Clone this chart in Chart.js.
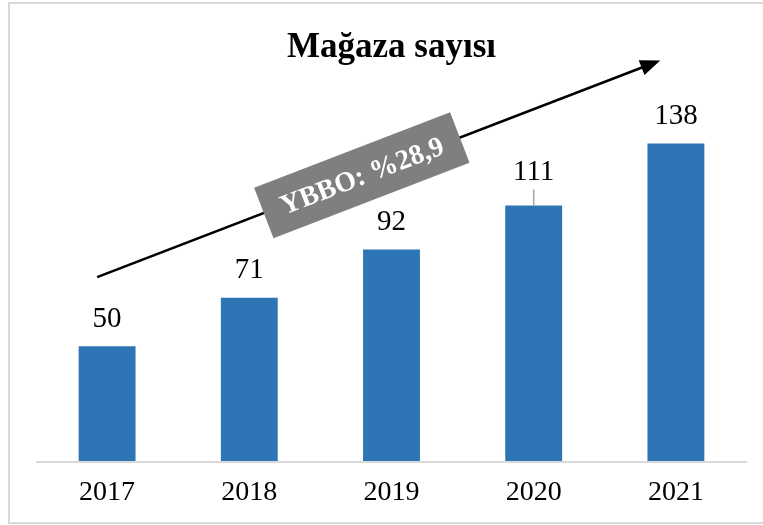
<!DOCTYPE html>
<html>
<head>
<meta charset="utf-8">
<script src="https://cdn.jsdelivr.net/npm/chart.js@4/dist/chart.umd.min.js"></script>
<style>
  html, body { margin: 0; padding: 0; background: #fff; }
  canvas { display: block; }
</style>
</head>
<body>
<canvas id="storeChart" width="763" height="525"></canvas>
<script>
// mağaza sayısı verisi
var years = ['2017', '2018', '2019', '2020', '2021'];
var storeCounts = [50, 71, 92, 111, 138];
var cagrText = 'YBBO: %28,9';
// trend oku (kategori indeksi, değer)
var arrowFrom = [-0.07, 80];
var arrowTo = [3.89, 174];

var serif = "'Liberation Serif', 'Times New Roman', serif";

// etiketler, trend oku ve çerçeve
var decorPlugin = {
    id: 'decor',
    afterDraw: function (chart) {
        var ctx = chart.ctx;
        var x = chart.scales.x, y = chart.scales.y;
        var meta = chart.getDatasetMeta(0);

        // çerçeve
        ctx.save();
        ctx.strokeStyle = '#d9d9d9';
        ctx.lineWidth = 2;
        ctx.strokeRect(9, 3, chart.width - 8, chart.height - 5);

        // eksen çizgisi
        ctx.beginPath();
        ctx.moveTo(chart.chartArea.left, chart.chartArea.bottom + 0.5);
        ctx.lineTo(chart.chartArea.right, chart.chartArea.bottom + 0.5);
        ctx.lineWidth = 2;
        ctx.stroke();

        // değer etiketleri
        ctx.fillStyle = '#000';
        ctx.font = '29px ' + serif;
        ctx.textAlign = 'center';
        ctx.textBaseline = 'middle';
        meta.data.forEach(function (bar, i) {
            var lift = i === 3 ? 33 : 27;
            ctx.fillText(String(storeCounts[i]), bar.x, bar.y - lift);
            if (i === 3) {
                ctx.beginPath();
                ctx.strokeStyle = '#a6a6a6';
                ctx.lineWidth = 1.5;
                ctx.moveTo(bar.x, bar.y - 16);
                ctx.lineTo(bar.x, bar.y);
                ctx.stroke();
            }
        });

        // trend oku
        var x1 = x.getPixelForValue(arrowFrom[0]), y1 = y.getPixelForValue(arrowFrom[1]);
        var x2 = x.getPixelForValue(arrowTo[0]), y2 = y.getPixelForValue(arrowTo[1]);
        var ang = Math.atan2(y2 - y1, x2 - x1);
        ctx.strokeStyle = '#000';
        ctx.lineWidth = 2.5;
        ctx.beginPath();
        ctx.moveTo(x1, y1);
        ctx.lineTo(x2 - 14 * Math.cos(ang), y2 - 14 * Math.sin(ang));
        ctx.stroke();
        ctx.fillStyle = '#000';
        ctx.beginPath();
        ctx.moveTo(x2, y2);
        ctx.lineTo(x2 - 20 * Math.cos(ang) + 8 * Math.sin(ang), y2 - 20 * Math.sin(ang) - 8 * Math.cos(ang));
        ctx.lineTo(x2 - 20 * Math.cos(ang) - 8 * Math.sin(ang), y2 - 20 * Math.sin(ang) + 8 * Math.cos(ang));
        ctx.closePath();
        ctx.fill();

        // YBBO kutusu
        var t = 0.47;
        var cx = x1 + (x2 - x1) * t, cy = y1 + (y2 - y1) * t;
        ctx.translate(cx, cy);
        ctx.rotate(ang);
        ctx.fillStyle = '#7f7f7f';
        ctx.fillRect(-105, -27, 210, 54);
        ctx.fillStyle = '#fff';
        ctx.font = 'bold 28px ' + serif;
        ctx.fillText(cagrText, 0, 2);
        ctx.restore();
    }
};

var ctx = document.getElementById('storeChart').getContext('2d');
var storeChart = new Chart(ctx, {
    type: 'bar',
    data: {
        labels: years,
        datasets: [{
            label: 'Mağaza sayısı',
            data: storeCounts,
            backgroundColor: '#2e75b6',
            categoryPercentage: 1,
            barPercentage: 0.4
        }]
    },
    options: {
        responsive: false,
        animation: false,
        layout: { padding: { left: 36, right: 16, top: 3, bottom: 2 } },
        plugins: {
            legend: { display: false },
            tooltip: { enabled: false },
            title: {
                display: true,
                text: 'Mağaza sayısı',
                color: '#000',
                font: { family: serif, size: 35, weight: 'bold' },
                padding: { top: 24, bottom: 26 }
            }
        },
        scales: {
            x: {
                grid: { display: false, drawTicks: false },
                border: { display: false },
                ticks: {
                    color: '#000',
                    padding: 14,
                    maxRotation: 0,
                    font: { family: serif, size: 28 }
                }
            },
            y: {
                display: false,
                min: 0,
                max: 159
            }
        }
    },
    plugins: [decorPlugin]
});
</script>
</body>
</html>
